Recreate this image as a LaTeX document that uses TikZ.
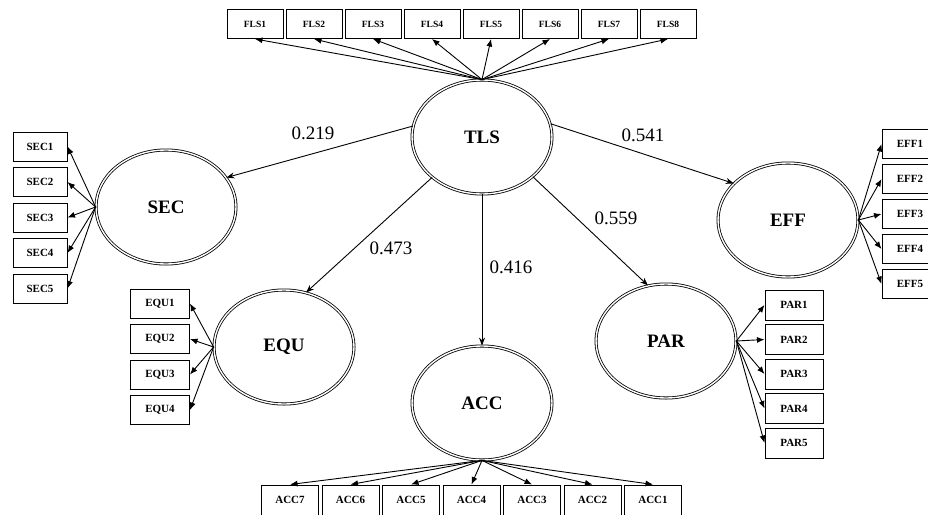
\documentclass[tikz,border=0pt]{standalone}
\usepackage{fontspec}
\setmainfont{Liberation Serif}
\usetikzlibrary{shapes.geometric,arrows.meta}

\tikzset{
	latent/.style={ellipse,draw,double,double distance=1.4pt,line width=0.8pt,minimum width=140pt,minimum height=114pt,inner sep=0pt,font=\fontsize{19}{22}\selectfont\bfseries},
	item/.style={draw,line width=1pt,minimum width=56pt,minimum height=29pt,inner sep=0pt,font=\fontsize{11}{13}\selectfont\bfseries},
	load/.style={-{Latex[length=7.5pt,width=6pt]},line width=0.9pt},
	effect/.style={-{Stealth[length=8pt,width=6pt]},line width=0.9pt},
	coef/.style={font=\fontsize{19}{22}\selectfont}
}

\begin{document}
\begin{tikzpicture}[x=1pt,y=-1pt]
	\useasboundingbox (0,0) rectangle (928,514);
	\fill[white] (0,0) rectangle (928,514);
	\clip (0,0) rectangle (928,514);

	\node[latent] (TLS) at (482,137) {TLS};
	\node[latent] (SEC) at (166,207) {SEC};
	\node[latent] (EQU) at (284,347) {EQU};
	\node[latent] (ACC) at (482,403) {ACC};
	\node[latent] (PAR) at (666,341) {PAR};
	\node[latent] (EFF) at (788,220) {EFF};

	\foreach \i in {1,...,8}
		{
		\node[item,font=\fontsize{9.5}{11}\selectfont\bfseries] (FLS\i) at ({255+59*(\i-1)},24) {FLS\i};
		\draw[load] (TLS.north) -- (FLS\i.south);
		}
	\foreach \i in {1,...,5}
		{
		\node[item,minimum width=54pt] (SEC\i) at (40,{146.5+35.5*(\i-1)}) {SEC\i};
		\draw[load] (SEC.west) -- (SEC\i.east);
		\node[item] (EFF\i) at (910,{144+35*(\i-1)}) {EFF\i};
		\draw[load] (EFF.east) -- (EFF\i.west);
		\node[item,minimum width=58pt,minimum height=30pt] (PAR\i) at (794,{305+34.5*(\i-1)}) {PAR\i};
		\draw[load] (PAR.east) -- (PAR\i.west);
		}
	\foreach \i in {1,...,4}
		{
		\node[item,minimum width=59pt] (EQU\i) at (160,{303.5+35.5*(\i-1)}) {EQU\i};
		\draw[load] (EQU.west) -- (EQU\i.east);
		}
	\foreach \i in {1,...,7}
		{
		\node[item,minimum width=57pt,minimum height=30pt] (ACC\i) at ({653-60.5*(\i-1)},500) {ACC\i};
		\draw[load] (ACC.south) -- (ACC\i.north);
		}

	\draw[effect] (TLS.171) -- (SEC.26);
	\draw[effect] (TLS.219) -- (EQU.68);
	\draw[effect] (TLS.south) -- (ACC.north);
	\draw[effect] (TLS.322) -- (PAR.108);
	\draw[effect] (TLS.11) -- (EFF.146);

	\node[coef] (c219) at (313,133) {0.219};
	\node[coef] (c473) at (391,248) {0.473};
	\node[coef] (c416) at (511,267) {0.416};
	\node[coef] (c559) at (616,218) {0.559};
	\node[coef] (c541) at (643,135) {0.541};
\end{tikzpicture}
\end{document}
